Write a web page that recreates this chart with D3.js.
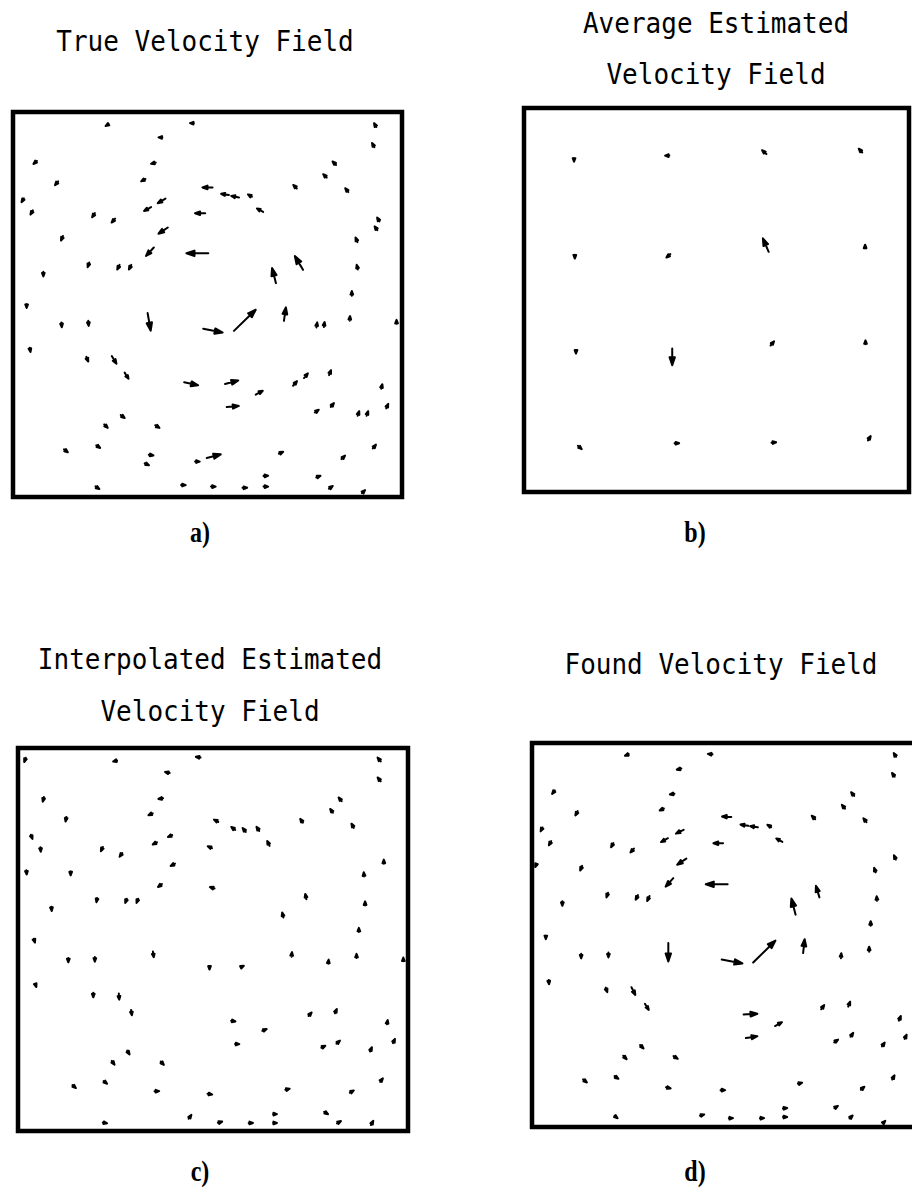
<!DOCTYPE html>
<html>
<head>
<meta charset="utf-8">
<script src="https://cdn.jsdelivr.net/npm/d3@7"></script>
<style>
  html, body { margin: 0; padding: 0; background: #fff; }
  svg { display: block; }
</style>
</head>
<body>
<div id="chart"></div>
<script>
// ── data: arrow centre (x, y) and vector (u, v), box units 0..100, y up ──
const fieldTrue = [
  [37.9,93.4,-1.0,0],[92.6,91.4,-0.6,1.1],[5.7,86.9,-0.9,-0.8],[36.1,86.7,-1.2,-0.3],
  [82.6,86.7,-0.9,0.9],[11.2,81.5,-0.8,-1.0],[33.5,82.3,-1.1,-0.6],[80.2,83.4,-0.9,0.9],
  [50.0,80.4,-2.6,0],[54.5,78.6,-2.0,0.3],[57.1,78.0,-2.0,0.4],[60.9,78.3,-1.0,0.6],
  [72.5,80.6,-0.9,0.9],[85.8,79.7,-0.8,1.0],[2.5,77.1,-0.6,-1.0],[38.2,76.9,-2.0,-1.2],
  [34.6,74.8,-1.8,-1.0],[48.1,73.7,-2.6,0],[63.5,74.5,-1.6,0.9],[4.8,73.9,-0.6,-1.1],
  [20.7,73.2,-0.7,-1.1],[25.8,71.8,-0.9,-1.0],[93.9,72.1,-0.6,1.0],[93.3,69.8,-0.7,1.0],
  [38.6,69.2,-2.4,-1.6],[12.6,67.2,-0.5,-1.2],[88.3,66.8,-0.5,1.2],[35.2,63.7,-2.0,-2.2],
  [47.4,63.3,-5.6,0],[73.5,60.8,-2.1,3.6],[19.4,60.3,-0.4,-1.2],[27.1,59.7,-0.6,-1.2],
  [30.1,59.7,-0.6,-1.2],[7.8,57.9,0,-1.2],[88.5,59.7,-0.3,1.2],[67.1,57.5,-1.0,3.9],
  [87.1,52.9,0,1.2],[3.5,49.6,0,-1.0],[12.5,44.7,0.1,-1.2],[19.4,45.1,0.1,-1.3],
  [35.0,45.5,0.8,-4.6],[51.4,43.2,5.0,-1.0],[59.6,45.9,5.6,5.5],[69.9,47.5,0.5,3.5],
  [78.1,44.7,0.2,1.3],[80.0,44.8,0.2,1.3],[86.6,46.4,0.1,1.2],[98.6,45.5,0,1.0],
  [4.4,38.2,0.2,-1.1],[19.1,35.8,0.5,-1.2],[26.0,35.6,1.2,-2.0],[29.2,31.5,1.0,-1.6],
  [45.8,29.4,3.6,-0.8],[56.2,29.8,3.4,0.9],[75.3,31.5,1.0,1.2],[72.5,29.5,1.0,1.2],
  [81.5,32.3,0.5,1.3],[63.3,27.1,1.8,1.0],[94.8,28.7,0.3,1.2],[56.5,23.5,3.1,0.3],
  [78.1,22.3,1.0,0.7],[82.1,23.9,0.8,1.0],[88.8,21.7,0.4,1.2],[91.1,21.7,0.4,1.2],
  [96.2,23.6,0.5,1.2],[28.2,20.9,1.0,-0.8],[23.9,18.4,0.9,-0.9],[37.1,18.3,1.1,-0.7],
  [13.6,12.0,1.0,-0.8],[21.9,13.1,1.0,-0.7],[35.5,10.9,1.2,-0.2],[34.4,8.5,1.1,-0.5],
  [51.6,10.6,3.6,0.95],[47.4,9.2,1.2,0],[68.9,11.5,1.1,0.5],[84.9,10.3,0.9,0.9],
  [92.9,13.1,0.8,1.0],[21.7,2.4,1.0,-0.7],[43.8,3.1,1.2,0],[51.5,2.7,1.2,0],
  [59.6,2.4,1.2,0],[65.0,5.5,1.2,0.1],[65.0,2.7,1.2,0],[78.5,5.3,1.1,0.4],
  [81.7,2.5,1.0,0.7],[90.1,1.4,0.8,0.8],[24.2,96.6,-0.8,-0.5],[46.0,97.1,-1.0,0],
  [93.1,96.6,-0.6,1.0]
];

const fieldAverage = [
  [13.0,86.5,0,-1.0],[37.2,87.6,-1.1,0],[62.4,88.5,-1.1,1.0],[87.4,88.9,-0.9,1.0],
  [13.2,61.3,0,-1.0],[37.5,61.5,-1.0,-0.9],[62.8,64.3,-1.5,3.5],[88.6,63.9,0,1.0],
  [13.5,36.5,0,-0.9],[38.5,35.2,0,-4.4],[64.5,38.7,0.9,1.1],[88.7,39.0,0,1.0],
  [14.5,11.6,1.0,-0.9],[39.7,12.7,1.2,0],[64.9,12.9,1.2,0.1],[89.7,14.0,0.7,1.1]
];

const fieldInterp = [
  [1.8,96.9,-0.4,-1.1],[24.9,96.6,-1.0,-0.3],[46.2,97.6,-1.2,0.2],[92.6,97.0,-0.8,1.0],
  [92.6,91.8,-0.8,1.0],[38.3,93.6,-1.2,0.3],[6.5,86.6,-0.3,-1.2],[36.6,86.8,-1.2,-0.2],
  [82.6,86.6,-0.8,1.0],[12.3,81.4,-0.2,-1.2],[34.0,82.7,-1.1,-0.5],[80.4,83.6,-0.7,1.0],
  [50.8,81.0,-1.1,0.6],[55.2,79.0,-1.0,0.8],[58.0,78.6,-0.8,1.0],[61.5,78.9,-0.7,1.1],
  [64.2,75.1,-0.6,1.3],[72.7,81.0,-0.7,1.0],[85.8,79.7,-0.6,1.1],[3.5,76.8,0.4,-1.1],
  [5.8,73.5,0.1,-1.2],[39.0,77.0,-1.1,-0.5],[35.1,75.1,-1.1,-0.6],[21.5,73.6,-0.5,-1.1],
  [26.4,72.1,-0.7,-1.0],[49.2,74.1,-1.1,0.5],[93.8,70.3,0,1.1],[2.2,67.5,0.1,-1.1],
  [13.5,67.3,0,-1.1],[39.7,69.5,-1.1,-0.6],[36.4,64.1,-1.0,-0.8],[49.8,63.5,-1.2,0.4],
  [88.7,67.0,-0.1,1.1],[20.2,60.3,-0.2,-1.1],[27.7,60.1,-0.4,-1.1],[30.6,60.1,-0.4,-1.1],
  [8.6,58.0,0.1,-1.1],[73.8,61.2,-0.3,1.4],[67.9,56.4,-0.3,1.3],[89.0,59.4,0,1.1],
  [4.2,49.7,0.3,-1.0],[87.4,52.5,0,1.1],[12.9,44.6,0,-1.1],[19.7,44.8,0,-1.2],
  [34.7,46.1,0.2,-1.5],[49.1,42.6,0,-0.9],[57.6,43.0,0.6,0.3],[70.2,46.1,0.1,1.2],
  [79.6,44.2,0.1,1.1],[86.8,45.7,0,1.1],[98.8,44.8,0,1.0],[4.6,37.9,0.2,-0.6],
  [19.3,35.5,0,-1.2],[25.9,35.1,0.1,-1.6],[29.1,30.9,0.2,-1.4],[55.2,28.7,1.1,-0.2],
  [63.2,26.4,1.1,0.5],[56.2,22.7,1.1,0],[74.9,30.5,0.8,0.9],[81.5,31.3,0.5,1.1],
  [94.7,28.4,0.2,1.1],[78.3,22.0,1.0,0.5],[82.1,23.2,0.9,0.8],[90.5,21.3,0.5,1.1],
  [96.4,23.5,0.5,1.1],[28.3,20.5,0.6,-1.0],[24.4,17.8,0.7,-1.0],[37.0,17.7,0.8,-0.9],
  [14.4,11.6,0.9,-0.8],[22.4,12.7,0.9,-0.7],[35.6,10.4,1.2,0],[49.2,9.6,1.2,-0.2],
  [69.1,10.9,1.1,0.3],[85.6,10.3,1.0,0.6],[93.2,13.3,0.7,0.9],[22.3,2.1,1.1,-0.2],
  [44.1,3.7,0.7,1.0],[51.8,2.3,1.1,0.3],[59.7,2.1,1.1,0],[65.9,4.4,1.0,0],
  [65.9,2.1,1.0,0],[79.0,4.7,1.0,-0.6],[82.3,2.3,1.0,0.6],[90.8,2.1,0.6,1.1]
];

const fieldFound = [
  [24.7,96.9,-1.0,-0.4],[46.4,97.1,-1.2,0.1],[94.5,96.9,-0.6,1.0],[38.3,93.2,-1.2,-0.3],
  [94.1,91.7,-0.7,1.0],[5.6,87.2,-0.7,-0.9],[36.5,86.7,-1.2,-0.2],[83.5,86.7,-0.8,1.0],
  [11.6,81.7,-0.6,-1.1],[33.8,82.7,-1.1,-0.5],[81.1,83.4,-0.8,1.0],[50.7,80.8,-2.4,0.1],
  [55.3,78.6,-2.0,0.3],[57.8,78.2,-2.0,0.3],[61.8,78.4,-1.0,0.6],[73.3,80.6,-0.9,0.9],
  [86.7,79.9,-0.8,1.0],[2.5,77.5,-0.5,-1.0],[38.5,76.9,-2.0,-1.0],[4.7,73.9,-0.6,-1.1],
  [20.9,73.4,-0.6,-1.1],[34.5,74.7,-1.8,-1.0],[48.5,73.9,-2.5,0],[64.4,74.7,-1.6,0.9],
  [26.1,72.0,-0.9,-1.0],[1.0,68.1,-0.3,-0.8],[94.5,70.2,-0.5,1.1],[39.0,69.1,-2.4,-1.6],
  [12.8,67.4,-0.5,-1.2],[89.3,66.9,-0.4,1.2],[35.8,63.7,-2.0,-2.2],[48.1,63.2,-5.7,0],
  [74.4,61.3,-0.9,3.0],[68.1,57.4,-1.1,4.2],[19.6,60.4,-0.4,-1.2],[27.3,59.8,-0.6,-1.2],
  [30.3,59.5,-0.6,-1.3],[7.9,58.2,0,-1.2],[89.8,59.5,-0.1,1.2],[88.2,53.0,0,1.2],
  [3.6,49.4,0,-1.0],[12.8,44.5,0,-1.2],[19.9,44.8,0,-1.3],[35.5,45.5,0,-4.8],
  [52.1,43.1,5.4,-1.0],[60.5,45.7,5.8,5.7],[70.8,47.1,0.4,3.6],[80.5,44.6,0.1,1.3],
  [87.8,46.3,0,1.3],[4.4,37.7,0.1,-1.1],[19.4,35.7,0.4,-1.2],[26.4,35.4,1.0,-2.0],
  [29.9,31.3,1.0,-1.6],[56.9,29.4,3.6,0.2],[64.2,26.8,1.8,1.0],[57.2,23.4,3.0,0.5],
  [75.7,31.2,0.8,1.1],[82.6,32.0,0.5,1.3],[95.8,28.3,0.5,1.2],[79.2,22.4,1.0,0.7],
  [83.3,24.0,0.7,1.0],[91.5,21.5,0.7,1.0],[97.3,23.5,0.5,1.1],[28.6,20.9,0.9,-0.9],
  [24.2,18.1,0.9,-0.9],[37.4,18.1,1.1,-0.7],[13.8,12.0,1.0,-0.8],[22.0,12.9,1.0,-0.7],
  [35.5,10.2,1.2,-0.3],[49.7,9.6,1.2,0],[69.8,11.4,1.1,0.3],[86.1,10.1,0.9,0.8],
  [94.1,12.9,0.6,1.1],[21.9,2.6,0.8,-0.6],[44.3,3.1,1.1,0.3],[51.8,2.3,1.1,0],
  [59.9,2.3,1.1,0],[65.9,4.9,1.1,0.1],[65.9,2.6,1.1,0],[79.2,5.2,0.9,0.6],
  [83.1,2.6,0.8,0.8],[91.7,1.3,0.6,0.6]
];

const titles = [
  ['True Velocity Field'],
  ['Average Estimated', 'Velocity Field'],
  ['Interpolated Estimated', 'Velocity Field'],
  ['Found Velocity Field']
];
const labels = ['a)', 'b)', 'c)', 'd)'];

// ── layout (pixels) ──────────────────────────────────
const W = 912, H = 1190;
const PANELS = [
  { field: fieldTrue,    box: [13, 112, 402, 497],   titleX: 205, titleY: [51],       labelX: 200, labelY: 542 },
  { field: fieldAverage, box: [524, 108, 909, 492],  titleX: 716, titleY: [33, 84],   labelX: 695, labelY: 542 },
  { field: fieldInterp,  box: [18, 748, 408, 1131],  titleX: 210, titleY: [669, 721], labelX: 200, labelY: 1181 },
  { field: fieldFound,   box: [532, 743, 916, 1127], titleX: 721, titleY: [674],      labelX: 695, labelY: 1181 }
];

const svg = d3.select('#chart').append('svg')
  .attr('width', W).attr('height', H)
  .attr('viewBox', `0 0 ${W} ${H}`);

svg.append('rect').attr('width', W).attr('height', H).attr('fill', '#fff');

// arrow: shaft + filled head, centred on (x, y)
function arrowPath(d, x, y) {
  const [cx, cy, u, v] = d;
  const sx = x(cx - u / 2), sy = y(cy - v / 2);
  const ex = x(cx + u / 2), ey = y(cy + v / 2);
  const L = Math.hypot(ex - sx, ey - sy) || 1;
  const ux = (ex - sx) / L, uy = (ey - sy) / L;
  const hl = Math.min(8, Math.max(3.5, L * 0.5));
  const hw = Math.min(2.8, 0.3 + hl * 0.3);
  const bx = ex - ux * hl, by = ey - uy * hl;
  return `M${sx},${sy}L${bx},${by}` +
    `M${ex},${ey}L${bx - uy * hw},${by + ux * hw}L${bx + uy * hw},${by - ux * hw}Z`;
}

PANELS.forEach((p, i) => {
  const [x0, y0, x1, y1] = p.box;
  const x = d3.scaleLinear().domain([0, 100]).range([x0, x1]);
  const y = d3.scaleLinear().domain([0, 100]).range([y1, y0]);
  const g = svg.append('g');

  g.selectAll('path.arrow')
    .data(p.field)
    .join('path')
    .attr('class', 'arrow')
    .attr('d', d => arrowPath(d, x, y))
    .attr('fill', '#000')
    .attr('stroke', '#000')
    .attr('stroke-width', 2)
    .attr('stroke-linecap', 'round')
    .attr('stroke-linejoin', 'round');

  g.append('rect')
    .attr('x', x(0)).attr('y', y(100))
    .attr('width', x(100) - x(0)).attr('height', y(0) - y(100))
    .attr('fill', 'none')
    .attr('stroke', '#000')
    .attr('stroke-width', 4.5);

  titles[i].forEach((t, k) => {
    svg.append('text')
      .attr('transform', `translate(${p.titleX},${p.titleY[k]}) scale(1,1.1)`)
      .attr('text-anchor', 'middle')
      .attr('font-family', '"DejaVu Sans Mono", monospace')
      .attr('font-size', 26)
      .attr('fill', '#000')
      .text(t);
  });

  svg.append('text')
    .attr('transform', `translate(${p.labelX},${p.labelY}) scale(0.8,1)`)
    .attr('text-anchor', 'middle')
    .attr('font-family', '"Liberation Serif", "Times New Roman", serif')
    .attr('font-weight', 'bold')
    .attr('font-size', 30)
    .attr('fill', '#000')
    .text(labels[i]);
});
</script>
</body>
</html>
